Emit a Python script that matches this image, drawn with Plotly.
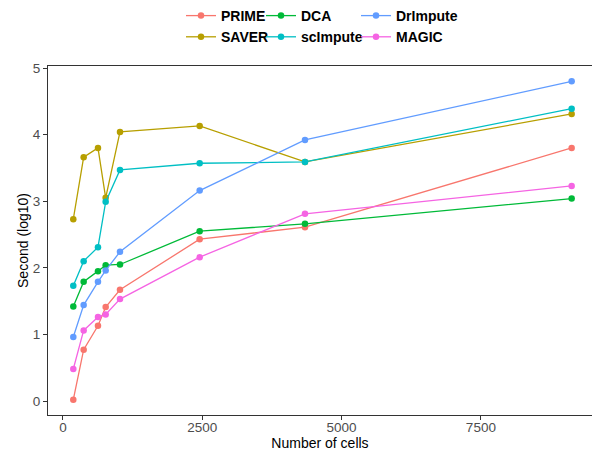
import plotly.graph_objects as go

cells = [185, 371, 628, 766, 1023, 2453, 4343, 9129]

methods = ["PRIME", "SAVER", "DCA", "scImpute", "DrImpute", "MAGIC"]
colors = ["#F8766D", "#B79F00", "#00BA38", "#00BFC4", "#619CFF", "#F564E3"]

prime = [0.02, 0.77, 1.13, 1.41, 1.67, 2.43, 2.61, 3.80]
saver = [2.73, 3.66, 3.80, 3.05, 4.04, 4.13, 3.59, 4.31]
dca = [1.42, 1.79, 1.95, 2.04, 2.05, 2.55, 2.66, 3.04]
scimpute = [1.73, 2.10, 2.31, 2.99, 3.47, 3.57, 3.59, 4.39]
drimpute = [0.96, 1.44, 1.79, 1.96, 2.24, 3.16, 3.92, 4.80]
magic = [0.48, 1.06, 1.26, 1.30, 1.53, 2.16, 2.81, 3.23]

values = [prime, saver, dca, scimpute, drimpute, magic]
legend_of = ["legend", "legend", "legend2", "legend2", "legend3", "legend3"]

fig = go.Figure()
for name, col, vals, lg in zip(methods, colors, values, legend_of):
    fig.add_trace(go.Scatter(
        x=cells, y=vals, name=name, mode="lines+markers",
        line=dict(color=col, width=1.3),
        marker=dict(color=col, size=6.5),
        legend=lg,
    ))

font = "Liberation Sans, Arial, Helvetica, sans-serif"
W, H = 592, 452
ml, mr, mt, mb = 48, 0, 66, 37
pw, ph = W - ml - mr, H - mt - mb


def px_to_paper_x(px):
    return (px - ml) / pw


def px_to_paper_y(py):
    return (H - mb - py) / ph


legend_common = dict(
    orientation="v", yanchor="top", xanchor="left",
    font=dict(family=font, size=14, color="black", weight="bold"),
    bgcolor="rgba(0,0,0,0)", tracegroupgap=0, itemwidth=30,
)

fig.update_layout(
    width=W, height=H,
    margin=dict(l=ml, r=mr, t=mt, b=mb, autoexpand=False),
    plot_bgcolor="white", paper_bgcolor="white",
    font=dict(family=font),
    legend=dict(x=px_to_paper_x(181), y=px_to_paper_y(0), **legend_common),
    legend2=dict(x=px_to_paper_x(261), y=px_to_paper_y(0), **legend_common),
    legend3=dict(x=px_to_paper_x(356), y=px_to_paper_y(0), **legend_common),
    xaxis=dict(
        range=[-269, 9494], tickvals=[0, 2500, 5000, 7500],
        showgrid=False, zeroline=False, automargin=False,
        showline=True, linecolor="#333333", linewidth=1.2, mirror=True,
        ticks="outside", ticklen=4, tickcolor="#333333",
        ticklabelstandoff=-4,
        tickfont=dict(size=13.5, color="#4D4D4D"),
        title=dict(text="Number of cells", font=dict(size=14, color="black"), standoff=2),
    ),
    yaxis=dict(
        range=[-0.21, 5.03], tickvals=[0, 1, 2, 3, 4, 5],
        showgrid=False, zeroline=False, automargin=False,
        showline=True, linecolor="#333333", linewidth=1.2, mirror=True,
        ticks="outside", ticklen=4, tickcolor="#333333",
        tickfont=dict(size=13.5, color="#4D4D4D"),
        title=dict(text="Second (log10)", font=dict(size=14, color="black"), standoff=0),
    ),
)

fig.write_html(
    "out.html",
    config={"displayModeBar": False},
    post_script="document.body.style.margin='0';document.body.style.overflow='hidden';",
)
